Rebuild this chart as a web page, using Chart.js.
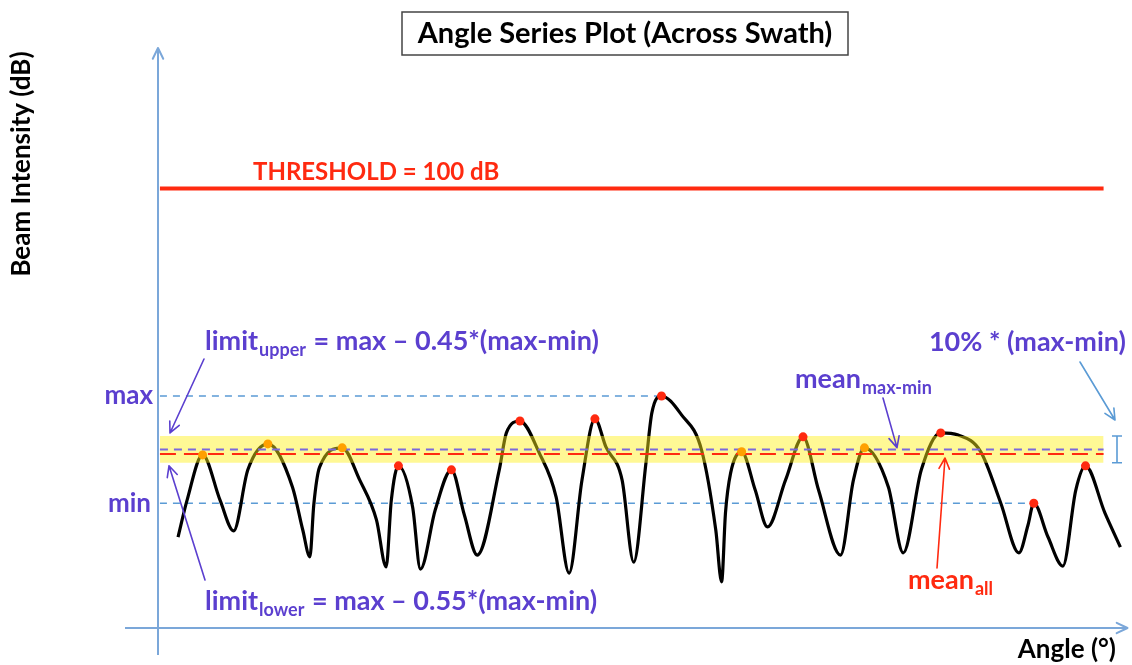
<!DOCTYPE html>
<html>
<head>
<meta charset="utf-8">
<script src="https://cdn.jsdelivr.net/npm/chart.js@4"></script>
<style>
  html, body { margin: 0; padding: 0; background: #fff; }
  #wrap { width: 1132px; height: 665px; }
</style>
</head>
<body>
<div id="wrap"><canvas id="beam" width="1132" height="665"></canvas></div>
<script>
// beam intensity across the swath: angle (deg) and intensity (dB)
var angleDeg = [-71.9, -70.5, -68.1, -65.4, -63.3, -61.1, -58.0, -54.2, -52.6, -51.5,
  -50.9, -50.0, -46.5, -43.8, -41.2, -39.7, -38.9, -37.8, -35.6, -34.4,
  -32.1, -29.6, -27.6, -25.6, -22.2, -21.1, -19.0, -16.0, -13.4, -11.4,
  -9.4, -7.4, -5.7, -3.2, -1.4, 0.5, 1.4, 2.9, 6.0, 9.1,
  11.3, 12.2, 12.8, 13.6, 15.3, 17.4, 19.3, 22.1, 24.8, 27.2,
  30.6, 32.6, 34.3, 38.0, 40.3, 43.1, 46.1, 48.8, 52.3, 55.4,
  58.2, 59.6, 60.5, 62.7, 65.0, 67.0, 68.5, 71.5, 73.9];
var intensityDb = [20.7, 29.1, 39.4, 29.1, 22.1, 36.0, 41.9, 32.1, 22.3, 16.2,
  28.0, 36.6, 41.0, 33.7, 24.6, 13.9, 29.1, 36.9, 27.5, 13.4,
  26.9, 36.0, 25.7, 16.6, 36.0, 44.4, 47.1, 39.8, 29.8, 12.5,
  33.7, 47.6, 41.2, 33.7, 15.0, 37.6, 48.9, 52.8, 48.5, 40.5,
  22.3, 10.5, 26.2, 35.3, 40.1, 31.4, 23.0, 33.7, 43.5, 31.4,
  16.6, 33.7, 41.0, 32.1, 17.1, 36.0, 44.4, 43.9, 40.1, 28.4,
  17.1, 23.4, 28.4, 20.7, 14.1, 31.4, 36.9, 26.2, 18.4];

// picked peaks (index into the series) and their dot colour
var peakIdx = [2, 6, 12, 17, 21, 26, 31, 37, 44, 48, 52, 56, 62, 66];
var peakCol = ['#ffa000', '#ffa000', '#ffa000', '#ff2a10', '#ff2a10', '#ff2a10', '#ff2a10',
  '#ff2a10', '#ffa000', '#ff2a10', '#ffa000', '#ff2a10', '#ff2a10', '#ff2a10'];

var threshold = 100;
var peakMax = 52.8, peakMin = 28.4, peakMaxAngle = 2.9, peakMinAngle = 60.5;
var meanMaxMin = 40.6, meanAll = 39.6;
var bandTop = 43.7, bandBottom = 37.6;
var lineStart = -74.7, lineEnd = 71.3;

var PURPLE = '#5b3fcf', RED = '#ff2a10', AXIS = '#7ba7d9';
var FONT = 'Lato, "Open Sans", sans-serif';

function hline(y, x0, x1) {
  return [{x: x0, y: y}, {x: x1, y: y}];
}

var curve = angleDeg.map(function (a, i) { return {x: a, y: intensityDb[i]}; });
var peaks = peakIdx.map(function (i) { return {x: angleDeg[i], y: intensityDb[i]}; });

function arrow(ctx, x1, y1, x2, y2, color, w) {
  var a = Math.atan2(y2 - y1, x2 - x1), h = 12;
  ctx.save();
  ctx.strokeStyle = color;
  ctx.lineWidth = w || 1.6;
  ctx.lineCap = 'round';
  ctx.lineJoin = 'round';
  ctx.beginPath();
  ctx.moveTo(x1, y1);
  ctx.lineTo(x2, y2);
  ctx.moveTo(x2 - h * Math.cos(a - 0.45), y2 - h * Math.sin(a - 0.45));
  ctx.lineTo(x2, y2);
  ctx.lineTo(x2 - h * Math.cos(a + 0.45), y2 - h * Math.sin(a + 0.45));
  ctx.stroke();
  ctx.restore();
}

// main text with a subscript, then the rest of the line
function subText(ctx, x, y, main, sub, rest, color, size, align) {
  var big = 'bold ' + size + 'px ' + FONT, small = 'bold ' + Math.round(size * 0.66) + 'px ' + FONT;
  ctx.save();
  ctx.fillStyle = color;
  ctx.textBaseline = 'middle';
  ctx.textAlign = 'left';
  ctx.font = big;
  var w1 = ctx.measureText(main).width;
  var w3 = rest ? ctx.measureText(rest).width : 0;
  ctx.font = small;
  var w2 = ctx.measureText(sub).width;
  if (align === 'right') x -= w1 + w2 + w3;
  ctx.font = big;
  ctx.fillText(main, x, y);
  ctx.font = small;
  ctx.fillText(sub, x + w1 + 1, y + size * 0.34);
  if (rest) {
    ctx.font = big;
    ctx.fillText(rest, x + w1 + w2 + 2, y);
  }
  ctx.restore();
}

function text(ctx, s, x, y, color, size, align) {
  ctx.save();
  ctx.fillStyle = color;
  ctx.font = 'bold ' + size + 'px ' + FONT;
  ctx.textAlign = align || 'left';
  ctx.textBaseline = 'middle';
  ctx.fillText(s, x, y);
  ctx.restore();
}

var sketch = {
  id: 'sketch',
  beforeDatasetsDraw: function (chart) {
    var ctx = chart.ctx, a = chart.chartArea;
    ctx.save();
    ctx.strokeStyle = AXIS;
    ctx.lineWidth = 2;
    ctx.beginPath();
    ctx.moveTo(a.left, 655);
    ctx.lineTo(a.left, a.top);
    ctx.moveTo(125, a.bottom);
    ctx.lineTo(a.right, a.bottom);
    ctx.stroke();
    ctx.restore();
    arrow(ctx, a.left, a.top + 12, a.left, a.top, AXIS, 2);
    arrow(ctx, a.right - 12, a.bottom, a.right, a.bottom, AXIS, 2);
  },
  afterDraw: function (chart) {
    var ctx = chart.ctx, ys = chart.scales.y;
    var yMax = ys.getPixelForValue(peakMax), yMin = ys.getPixelForValue(peakMin);
    var yTop = ys.getPixelForValue(bandTop), yBot = ys.getPixelForValue(bandBottom);
    var yMid = ys.getPixelForValue(meanMaxMin), yAll = ys.getPixelForValue(meanAll);

    // title box
    ctx.save();
    ctx.fillStyle = '#fff';
    ctx.strokeStyle = '#444';
    ctx.lineWidth = 1.5;
    ctx.fillRect(402, 12, 446, 43);
    ctx.strokeRect(402, 12, 446, 43);
    ctx.restore();
    text(ctx, 'Angle Series Plot (Across Swath)', 625, 34, '#000', 29, 'center');

    text(ctx, 'THRESHOLD = 100 dB', 253, ys.getPixelForValue(threshold) - 16, RED, 24);
    text(ctx, 'max', 153, yMax, PURPLE, 26, 'right');
    text(ctx, 'min', 151, yMin, PURPLE, 26, 'right');

    subText(ctx, 205, 341, 'limit', 'upper', ' = max \u2013 0.45*(max-min)', PURPLE, 27);
    subText(ctx, 205, 601, 'limit', 'lower', ' = max \u2013 0.55*(max-min)', PURPLE, 27);
    text(ctx, '10% * (max-min)', 1126, 342, PURPLE, 27, 'right');
    subText(ctx, 795, 379, 'mean', 'max-min', '', PURPLE, 27);
    subText(ctx, 908, 580, 'mean', 'all', '', RED, 27);

    arrow(ctx, 204, 359, 170, yTop - 3, PURPLE, 1.6);
    arrow(ctx, 205, 580, 169, yBot + 3, PURPLE, 1.6);
    arrow(ctx, 883, 398, 897, yMid - 2, PURPLE, 1.6);
    arrow(ctx, 937, 568, 945, yAll + 4, RED, 1.6);
    arrow(ctx, 1080, 362, 1115, 420, '#5b9bd5', 1.6);

    // 10% bracket
    ctx.save();
    ctx.strokeStyle = '#5b9bd5';
    ctx.lineWidth = 1.6;
    ctx.beginPath();
    ctx.moveTo(1117, yTop); ctx.lineTo(1117, yBot);
    ctx.moveTo(1112, yTop); ctx.lineTo(1122, yTop);
    ctx.moveTo(1112, yBot); ctx.lineTo(1122, yBot);
    ctx.stroke();
    ctx.restore();

    // axis titles
    ctx.save();
    ctx.translate(22, 164);
    ctx.rotate(-Math.PI / 2);
    text(ctx, 'Beam Intensity (dB)', 0, 0, '#000', 26, 'center');
    ctx.restore();
    text(ctx, 'Angle (\u00b0)', 1116, 650, '#000', 26, 'right');
  }
};

new Chart(document.getElementById('beam'), {
  type: 'line',
  data: {
    datasets: [
      {
        data: hline(threshold, lineStart, lineEnd),
        borderColor: RED, borderWidth: 4, pointRadius: 0, order: 7
      },
      {
        data: hline(peakMax, lineStart, peakMaxAngle),
        borderColor: '#5b9bd5', borderWidth: 1.5, borderDash: [7, 6], pointRadius: 0, order: 6
      },
      {
        data: hline(peakMin, lineStart, peakMinAngle),
        borderColor: '#5b9bd5', borderWidth: 1.5, borderDash: [7, 6], pointRadius: 0, order: 6
      },
      {
        data: curve,
        borderColor: '#000', borderWidth: 3.2, pointRadius: 0,
        cubicInterpolationMode: 'monotone', order: 5
      },
      {
        data: hline(bandTop, lineStart, lineEnd),
        borderWidth: 0, pointRadius: 0, fill: '+1',
        backgroundColor: 'rgba(255, 240, 20, 0.45)', order: 4
      },
      {
        data: hline(bandBottom, lineStart, lineEnd),
        borderWidth: 0, pointRadius: 0, order: 4
      },
      {
        data: hline(meanMaxMin, lineStart, lineEnd),
        borderColor: '#7b68dc', borderWidth: 2, borderDash: [8, 6], pointRadius: 0, order: 3
      },
      {
        data: hline(meanAll, lineStart, lineEnd),
        borderColor: RED, borderWidth: 2, borderDash: [16, 8], pointRadius: 0, order: 3
      },
      {
        data: peaks, showLine: false, pointRadius: 4.5, pointBorderWidth: 0,
        pointBackgroundColor: peakCol, order: 1
      }
    ]
  },
  options: {
    responsive: false,
    animation: false,
    layout: { padding: { left: 158, right: 2, top: 48, bottom: 37 } },
    scales: {
      x: { type: 'linear', min: -75, max: 75, display: false },
      y: { min: 0, max: 132, display: false }
    },
    plugins: {
      legend: { display: false },
      tooltip: { enabled: false },
      filler: { propagate: false }
    }
  },
  plugins: [sketch]
});
</script>
</body>
</html>
